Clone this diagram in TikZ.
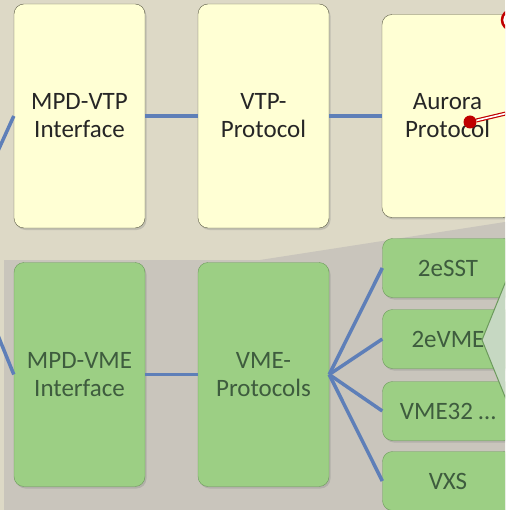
\documentclass[tikz,border=0pt]{standalone}
\usepackage{tikz}
\usepackage{fontspec}
\setmainfont{Carlito}
\usetikzlibrary{shadows}

\definecolor{slidetan}{HTML}{DDD9C6}
\definecolor{panelgray}{HTML}{C9C5BC}
\definecolor{vtpfill}{HTML}{FFFFD4}
\definecolor{vtpline}{HTML}{5E5E48}
\definecolor{vmefill}{HTML}{9CCF84}
\definecolor{vmeline}{HTML}{6C9A5C}
\definecolor{vmetext}{HTML}{3E5C3E}
\definecolor{busblue}{HTML}{5E7FB8}
\definecolor{linkred}{HTML}{C00000}
\definecolor{calloutfill}{HTML}{C6D8C2}

\begin{document}
\begin{tikzpicture}[x=1pt,y=1pt,node distance=184pt]
	\tikzstyle{block} = [rectangle, draw=vtpline, fill=vtpfill, text=black!85, minimum width=131pt, minimum height=224pt, align=center, rounded corners=10pt, font=\fontsize{25}{28}\selectfont, drop shadow={shadow xshift=1.5pt, shadow yshift=-2pt, opacity=0.3}];
	\tikzstyle{vmeblock} = [block, draw=vmeline, fill=vmefill, text=vmetext];
	\tikzstyle{busblock} = [vmeblock, minimum height=59pt];
	\tikzstyle{bus} = [draw=busblue, line width=3.5pt];
	\useasboundingbox (0,0) rectangle (505,-510);
	\clip (0,0) rectangle (505,-510);
	% slide background and the grey VME panel
	\fill[slidetan] (0,0) rectangle (505,-510);
	\fill[panelgray] (4,-260) -- (260,-260) -- (505,-222) -- (505,-510) -- (4,-510) -- cycle;
	
	\draw node [block] (mpdvtp) at (79.5,-116) {MPD-VTP\\Interface};
	\draw node [block, right of=mpdvtp] (vtpproto) {VTP-\\Protocol};
	\draw node [block, right of=vtpproto, minimum height=203pt] (aurora) {Aurora\\Protocol};
	\draw node [vmeblock, below of=mpdvtp, node distance=258.5pt] (mpdvme) {MPD-VME\\Interface};
	\draw node [vmeblock, right of=mpdvme] (vmeproto) {VME-\\Protocols};
	
	\draw node [busblock] (esst) at (448,-268) {2eSST};
	\draw node [busblock, below of=esst, node distance=71pt] (evme) {2eVME};
	\draw node [busblock, below of=evme, node distance=72pt] (vmethirtytwo) {VME32 …};
	\draw node [busblock, below of=vmethirtytwo, node distance=70pt] (vxs) {VXS};
	
	\coordinate (vtpfeed) at (-3,-153);
	\coordinate (vmefeed) at (-3,-333);
	\draw [bus] (vtpfeed) -- (mpdvtp.west);
	\draw [bus] (mpdvtp) -- (vtpproto);
	\draw [bus] (vtpproto) -- (aurora);
	\draw [bus] (vmefeed) -- (mpdvme.west);
	\draw [bus] (mpdvme) -- (vmeproto);
	\draw [bus] (vmeproto.east) -- (esst.west);
	\draw [bus] (vmeproto.east) -- (evme.west);
	\draw [bus] (vmeproto.east) -- (vmethirtytwo.west);
	\draw [bus] (vmeproto.east) -- (vxs.west);
	
	% red link leaving the Aurora box
	\coordinate (linkout) at (512,-112);
	\draw node [circle, fill=linkred, inner sep=0pt, minimum size=13pt] (linkdot) at (470,-122) {};
	\draw [draw=linkred, line width=1.2pt, double=white, double distance=1.6pt] (linkdot) -- (linkout);
	\draw node [circle, draw=linkred, line width=2.5pt, fill=white, minimum size=20pt] (linkring) at (512,-20) {};
	
	% callout over the bus boxes
	\draw [vmeline, fill=calloutfill, line width=1pt] (512,-266) -- (482,-340) -- (512,-414);
\end{tikzpicture}
\end{document}
